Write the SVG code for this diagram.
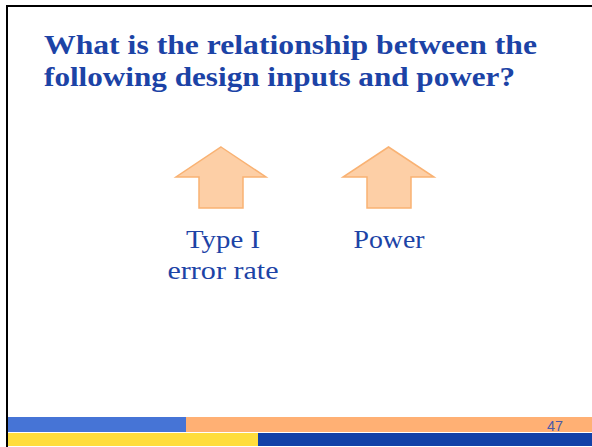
<svg xmlns="http://www.w3.org/2000/svg" width="592" height="447" viewBox="0 0 592 447">
<style>
.title{font-family:"Liberation Serif","Times New Roman",serif;font-weight:bold;font-size:27px;fill:#1c43a6}
.lbl{font-family:"Liberation Serif","Times New Roman",serif;font-size:26px;fill:#1c43a6;text-anchor:middle}
.arrow{fill:#fdcfa6;stroke:#f9b273;stroke-width:1.5}
.num{font-family:"Liberation Sans",Arial,sans-serif;font-size:14px;fill:#4a5aa8;text-anchor:middle}
</style>
<rect x="0" y="0" width="592" height="447" fill="#ffffff"/>
<rect x="7" y="6" width="600" height="450" fill="none" stroke="#000" stroke-width="2"/>
<g id="title">
<text class="title" x="44" y="54" textLength="493" lengthAdjust="spacingAndGlyphs">What is the relationship between the</text>
<text class="title" x="44" y="86" textLength="471" lengthAdjust="spacingAndGlyphs">following design inputs and power?</text>
</g>
<g id="node-type1">
<polygon class="arrow" points="221,147 266,177 243,177 243,208 199,208 199,177 176,177"/>
<text class="lbl" x="223" y="248" textLength="74" lengthAdjust="spacingAndGlyphs">Type I</text>
<text class="lbl" x="223" y="279" textLength="111" lengthAdjust="spacingAndGlyphs">error rate</text>
</g>
<g id="node-power">
<polygon class="arrow" points="388.5,147 434,177 411,177 411,208 367,208 367,177 343,177"/>
<text class="lbl" x="389" y="248" textLength="71" lengthAdjust="spacingAndGlyphs">Power</text>
</g>
<g id="footer">
<rect x="8" y="417" width="178" height="15" fill="#4674d6"/>
<rect x="186" y="417" width="406" height="15" fill="#ffb074"/>
<rect x="8" y="433" width="250" height="13" fill="#ffdd3c"/>
<rect x="258" y="433" width="334" height="13" fill="#1241a8"/>
<text class="num" x="555" y="431" textLength="16" lengthAdjust="spacingAndGlyphs">47</text>
</g>
<g id="connectors"/>
</svg>
